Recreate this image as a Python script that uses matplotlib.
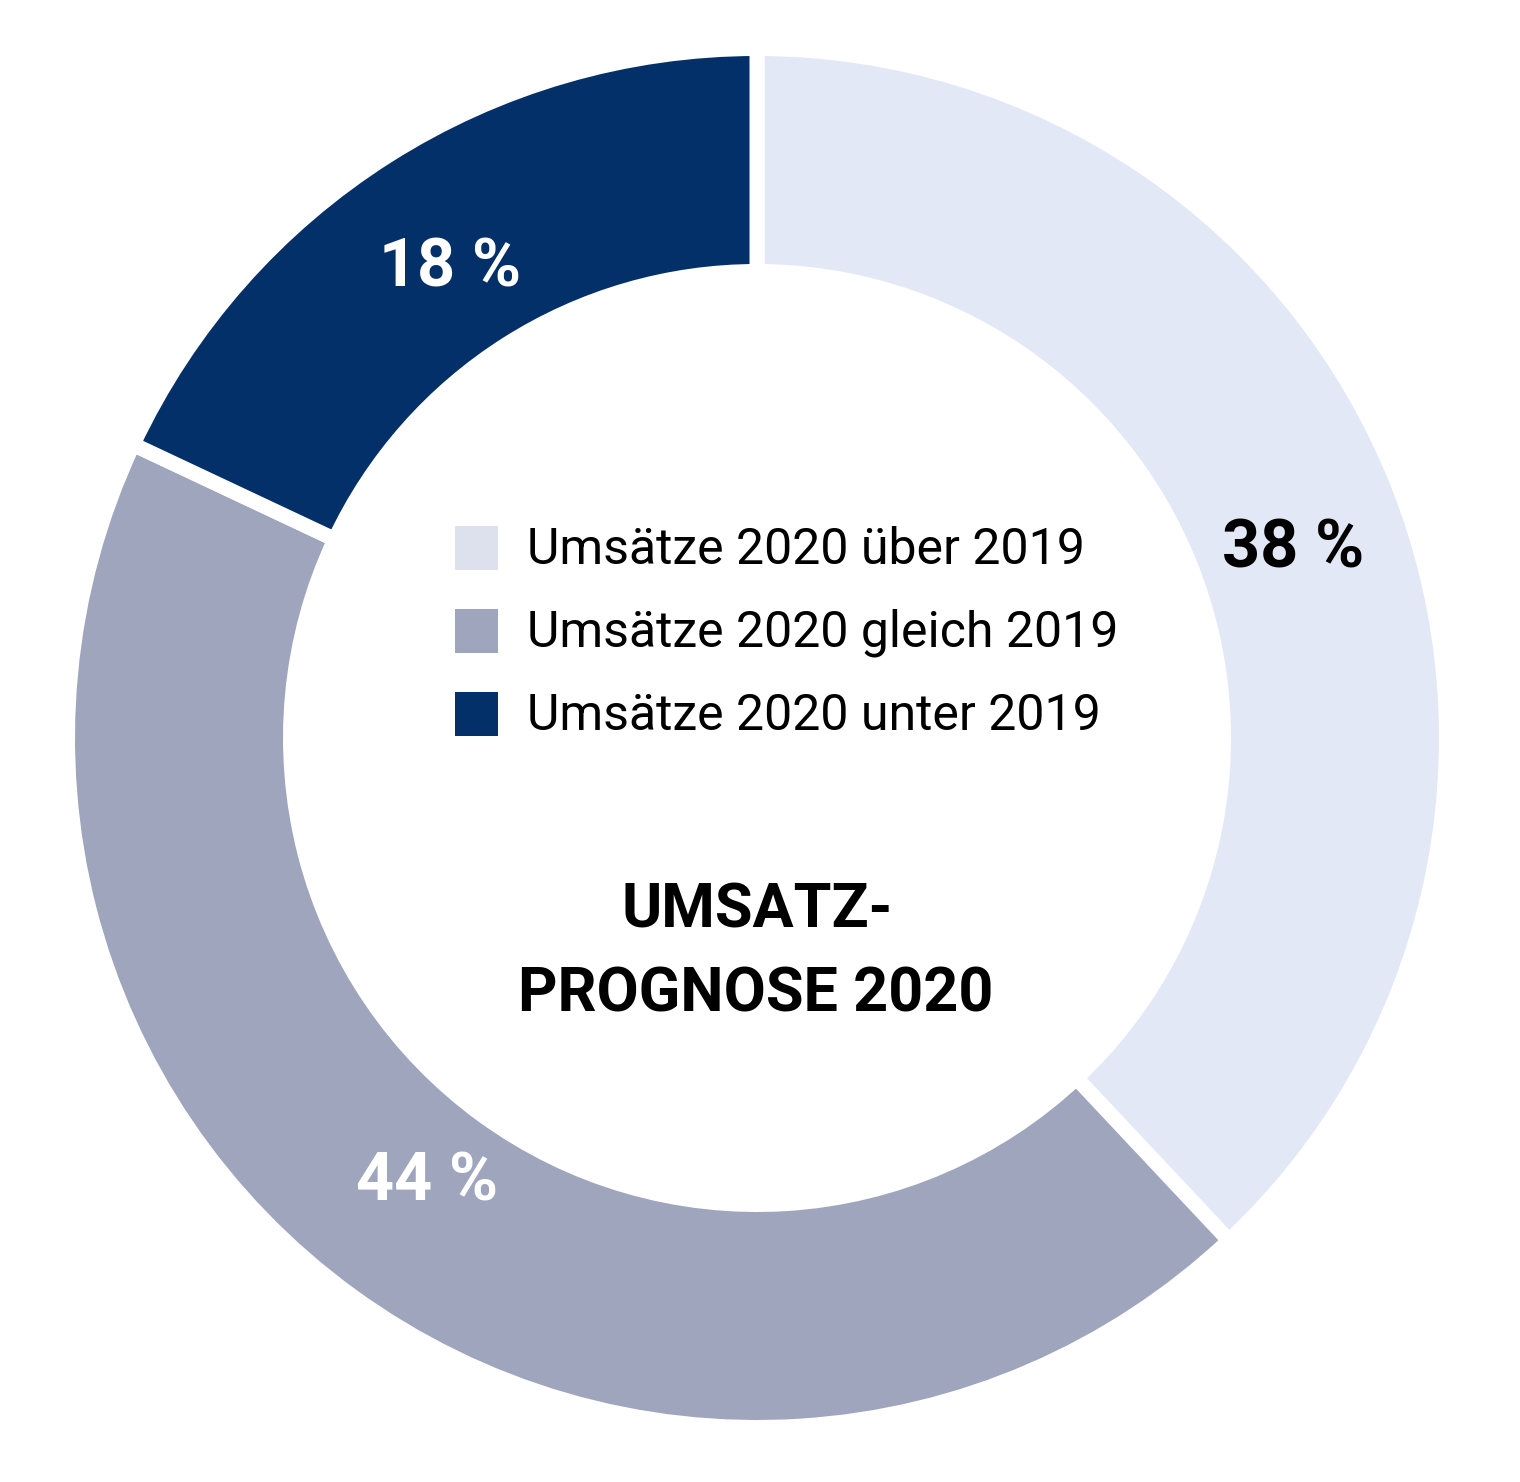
import matplotlib.pyplot as plt
from matplotlib.patches import Rectangle

# data
labels = ['Umsätze 2020 über 2019', 'Umsätze 2020 gleich 2019', 'Umsätze 2020 unter 2019']
values = [38, 44, 18]
colors = ['#e3e8f6', '#9ea5bc', '#04306a']
swatch_colors = ['#dde1ee', '#9ea5bc', '#04306a']
pct_colors = ['black', 'white', 'white']
title_lines = ['UMSATZ-', 'PROGNOSE 2020']

# small hand nudges of the percentage labels (px)
pct_nudge = [(4, 22), (6, -18), (0, 14)]

plt.rcParams['font.family'] = ['Roboto', 'DejaVu Sans']

W, H = 1520, 1482
fig = plt.figure(figsize=(W / 100, H / 100), dpi=100)
ax = fig.add_axes([0, 0, 1, 1])

cx, cy = 757, 738
gap_px = 15
lw = gap_px / (100 / 72)
r_out = 682 + gap_px / 2
r_in = 474 - gap_px / 2

# y axis is flipped, so counterclock=True here draws clockwise on screen
wedges, texts, autotexts = ax.pie(
    values, colors=colors, startangle=-90, counterclock=True,
    radius=r_out, center=(cx, cy), frame=True,
    wedgeprops=dict(width=r_out - r_in, edgecolor='white', linewidth=lw),
    autopct=lambda p: f'{round(p):.0f} %', pctdistance=0.83,
    textprops=dict(fontsize=48, fontweight='bold'))
ax.set_xlim(0, W)
ax.set_ylim(H, 0)
ax.axis('off')
for t, c, (dx, dy) in zip(autotexts, pct_colors, pct_nudge):
    t.set_color(c)
    x, y = t.get_position()
    t.set_position((x + dx, y + dy))

# legend in the centre
for i, (lab, sc) in enumerate(zip(labels, swatch_colors)):
    y = 548 + i * 83
    ax.add_patch(Rectangle((455, y - 22), 43, 44, color=sc, lw=0))
    ax.text(527, y + 2, lab, fontsize=36, va='center', ha='left', color='black')

ax.text(757, 910, title_lines[0], fontsize=44, fontweight='bold', ha='center', va='center')
ax.text(756, 995, title_lines[1], fontsize=44, fontweight='bold', ha='center', va='center')

fig.savefig('out.png', dpi=100, facecolor='white')
